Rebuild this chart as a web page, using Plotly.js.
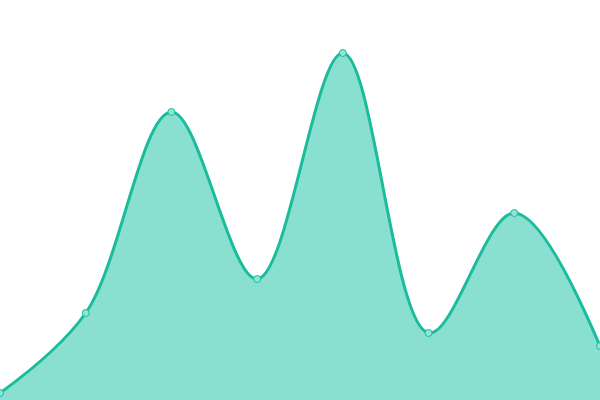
<!DOCTYPE html>
<html>
<head>
<meta charset="utf-8">
<script src="https://cdn.plot.ly/plotly-3.0.1.min.js"></script>
<style>html,body{margin:0;padding:0;background:#fff;}#plot{width:600px;height:400px;}</style>
</head>
<body>
<div id="plot"></div>
<script>
// point index along the x axis and the values
const xIndex = [0, 1, 2, 3, 4, 5, 6, 7];
const values = [7, 87, 288, 121, 347, 67, 187, 54];

var data = [{
  x: xIndex,
  y: values,
  type: "scatter",
  mode: "lines+markers",
  fill: "tozeroy",
  fillcolor: "#89e0d0",
  line: {shape: "spline", smoothing: 1, color: "#1abc9c", width: 3},
  marker: {size: 7, color: "#8ee6d6", line: {color: "#1abc9c", width: 1}},
  hoverinfo: "none"
}];

var layout = {
  width: 600,
  height: 400,
  margin: {t: 0, r: 0, b: 0, l: 0},
  paper_bgcolor: "#fff",
  plot_bgcolor: "#fff",
  showlegend: false,
  xaxis: {range: [0, 7], visible: false, fixedrange: true},
  yaxis: {range: [0, 400], visible: false, fixedrange: true}
};

Plotly.newPlot("plot", data, layout, {displayModeBar: false, staticPlot: true});
</script>
</body>
</html>
